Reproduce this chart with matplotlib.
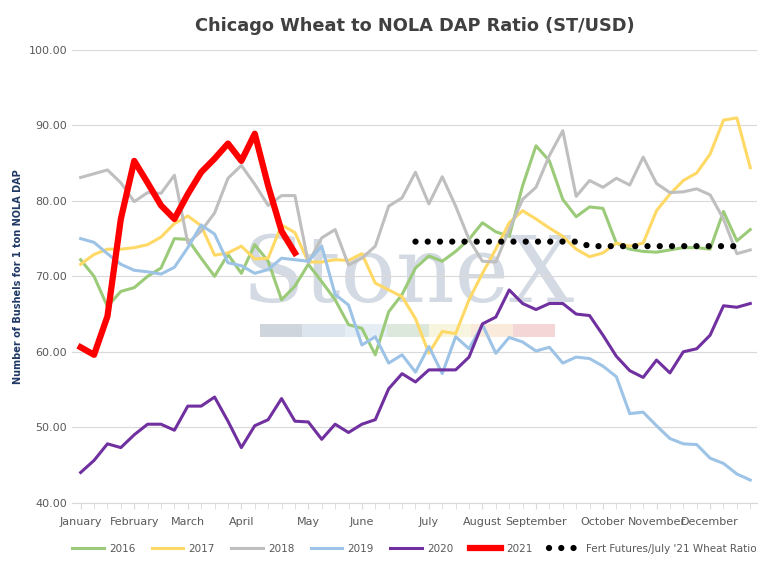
import numpy as np
import matplotlib.pyplot as plt
from matplotlib.patches import Rectangle

months = ["January", "February", "March", "April", "May", "June", "July",
          "August", "September", "October", "November", "December"]
month_pos = [0, 4, 8, 12, 17, 21, 26, 30, 34, 39, 43, 47]

y2016 = [72.2, 70.0, 66.0, 68.0, 68.5, 70.0, 71.1, 75.0, 74.9, 72.4, 70.0, 72.9, 70.4, 74.2, 72.0, 66.9, 68.7,
         71.6, 69.3, 66.9, 63.6, 63.1, 59.6, 65.3, 67.6, 71.1, 72.7, 72.0, 73.3, 74.9, 77.1, 75.9, 75.3, 82.0,
         87.3, 85.3, 80.2, 77.9, 79.2, 79.0, 74.4, 73.6, 73.3, 73.2, 73.5, 73.8, 73.8, 73.6, 78.6, 74.7, 76.2]
y2017 = [71.6, 72.9, 73.6, 73.6, 73.8, 74.2, 75.2, 77.0, 78.0, 76.7, 72.8, 73.1, 74.0, 72.3, 72.4, 76.8, 75.8,
         71.9, 71.9, 72.2, 72.1, 73.0, 69.1, 68.2, 67.3, 64.4, 59.8, 62.7, 62.4, 66.9, 70.4, 73.6, 77.1, 78.7,
         77.6, 76.4, 75.3, 73.6, 72.6, 73.1, 74.4, 74.0, 74.4, 78.7, 80.9, 82.7, 83.7, 86.2, 90.7, 91.0, 84.4]
y2018 = [83.1, 83.6, 84.1, 82.4, 79.9, 81.1, 81.0, 83.4, 74.4, 76.0, 78.4, 83.0, 84.7, 82.2, 79.4, 80.7, 80.7,
         71.8, 75.1, 76.2, 71.5, 72.4, 74.0, 79.3, 80.4, 83.8, 79.6, 83.2, 79.3, 74.9, 72.0, 71.9, 76.2, 80.2,
         81.8, 86.0, 89.3, 80.6, 82.7, 81.8, 83.0, 82.1, 85.8, 82.3, 81.1, 81.2, 81.6, 80.8, 77.6, 73.0, 73.5]
y2019 = [75.0, 74.5, 73.0, 71.6, 70.8, 70.6, 70.3, 71.2, 73.8, 76.8, 75.6, 71.8, 71.4, 70.4, 70.9, 72.4, 72.2,
         72.0, 74.0, 67.6, 66.2, 60.9, 62.0, 58.5, 59.6, 57.3, 60.7, 57.1, 62.0, 60.4, 63.6, 59.8, 61.9, 61.3,
         60.1, 60.6, 58.5, 59.3, 59.1, 58.1, 56.7, 51.8, 52.0, 50.2, 48.5, 47.8, 47.7, 45.9, 45.2, 43.8, 43.0]
y2020 = [44.0, 45.6, 47.8, 47.3, 49.0, 50.4, 50.4, 49.6, 52.8, 52.8, 54.0, 50.8, 47.3, 50.2, 51.0, 53.8, 50.8,
         50.7, 48.4, 50.4, 49.3, 50.4, 51.0, 55.1, 57.1, 56.0, 57.6, 57.6, 57.6, 59.3, 63.7, 64.6, 68.2, 66.4,
         65.6, 66.4, 66.4, 65.0, 64.8, 62.2, 59.4, 57.5, 56.6, 58.9, 57.2, 60.0, 60.4, 62.2, 66.1, 65.9, 66.4]
y2021 = [60.6, 59.6, 64.7, 77.6, 85.3, 82.4, 79.4, 77.6, 80.9, 83.8, 85.6, 87.6, 85.3, 88.9, 82.0, 76.0, 73.1]
fert = [np.nan] * 25 + [74.6] * 13 + [74.0] * 12

fig, ax = plt.subplots(figsize=(7.82, 5.68), dpi=100)
fig.subplots_adjust(left=0.092, right=0.968, top=0.912, bottom=0.115)

# watermark
ax.text(0.49, 0.50, "StoneX", transform=ax.transAxes, fontsize=66, family='DejaVu Serif',
        color='#8497b0', alpha=0.35, ha='center', va='center', zorder=0)
band = ['#aeb9c7', '#c5d3e2', '#d5e3ef', '#c4d9c4', '#f3efc8', '#f5dcc3', '#eebcbc']
for i, c in enumerate(band):
    ax.add_patch(Rectangle((0.275 + i * 0.0615, 0.365), 0.0615, 0.03, transform=ax.transAxes,
                           color=c, alpha=0.6, lw=0, zorder=0))

ax.plot(range(len(y2016)), y2016, color='#9bcb78', lw=2.2, label='2016')
ax.plot(range(len(y2017)), y2017, color='#ffd966', lw=2.2, label='2017')
ax.plot(range(len(y2018)), y2018, color='#bfbfbf', lw=2.2, label='2018')
ax.plot(range(len(y2019)), y2019, color='#9dc3e6', lw=2.2, label='2019')
ax.plot(range(len(y2020)), y2020, color='#7030a0', lw=2.2, label='2020')
ax.plot(range(len(y2021)), y2021, color='#ff0000', lw=4.5, label='2021')
ax.plot(range(len(fert)), fert, color='black', lw=4.5, linestyle=(0, (0.01, 1.95)),
        dash_capstyle='round', label="Fert Futures/July '21 Wheat Ratio")

ax.set_xlim(-0.65, 50.5)
ax.set_ylim(40, 100)
ax.set_yticks(np.arange(40, 101, 10))
ax.set_yticklabels([f"{v:.2f}" for v in np.arange(40, 101, 10)], fontsize=8, color='#595959')
ax.set_xticks(month_pos)
ax.set_xticklabels(months, fontsize=8, color='#595959')
ax.set_xticks(np.arange(0, 51), minor=True)
ax.tick_params(axis='x', which='both', length=4, color='#d9d9d9', pad=6)
ax.tick_params(axis='y', length=0)
ax.grid(axis='y', color='#d9d9d9', lw=0.8)
ax.set_axisbelow(True)
for s in ['top', 'right', 'left']:
    ax.spines[s].set_visible(False)
ax.spines['bottom'].set_color('#d9d9d9')

ax.set_ylabel("Number of Bushels for 1 ton NOLA DAP", fontsize=7, fontweight='bold', color='#1f3864')
ax.set_title("Chicago Wheat to NOLA DAP Ratio (ST/USD)", fontsize=12.8, fontweight='bold',
             color='#404040', pad=14)
ax.legend(loc='upper center', bbox_to_anchor=(0.5, -0.07), ncol=7, frameon=False, fontsize=7.5,
          handlelength=3, columnspacing=1.6, handletextpad=0.5, labelcolor='#595959')

plt.savefig("out.png", dpi=100)
